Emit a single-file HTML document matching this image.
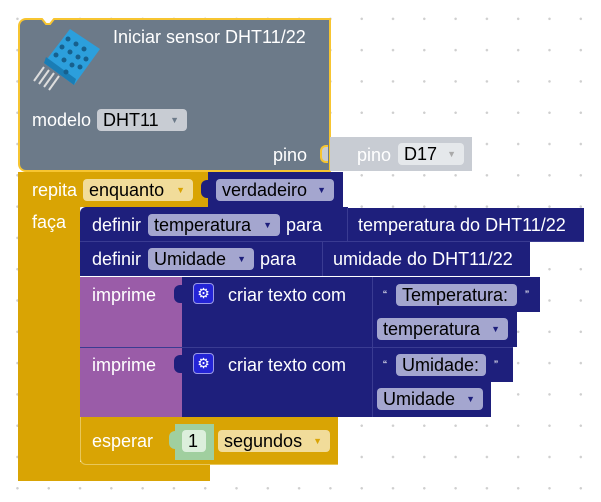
<!DOCTYPE html>
<html><head><meta charset="utf-8"><style>
html,body{margin:0;padding:0;}
body{width:601px;height:502px;position:relative;overflow:hidden;background:#fff;
background-image:radial-gradient(circle,#cfcfcf 1.1px,transparent 1.4px);
background-size:31.3px 31.3px;background-position:1.8px 3.2px;
font-family:"Liberation Sans",sans-serif;font-size:18px;}
.b{position:absolute;box-sizing:border-box;}
.t{position:absolute;color:#fff;white-space:nowrap;line-height:20px;font-size:18px;}
.f{position:absolute;box-sizing:border-box;border-radius:4px;color:#000;white-space:nowrap;line-height:22px;padding-left:6px;font-size:18px;}
.f i{font-style:normal;font-size:9px;position:absolute;right:8px;top:0px;}
.nv{background:#1e1f7c;}
.yl{background:#d9a404;}
.pu{background:#9a5ca8;}
.lav{background:#a4a6cf;}
.sep{position:absolute;background:#3a3b92;}
</style></head><body>

<!-- top grey block -->
<div class="b" style="left:18px;top:18px;width:313px;height:154px;background:#6c7a89;border:2px solid #f7c531;border-radius:8px 0 0 8px;"></div>
<svg class="b" style="left:36px;top:17px" width="24" height="10" viewBox="0 0 24 10"><path d="M0,1.5 L6,1.5 L10,6.5 L14,6.5 L18,1.5 L24,1.5 L24,0 L0,0 Z" fill="#fff"/><path d="M0,2 L6,2 L10,7 L14,7 L18,2 L24,2" fill="none" stroke="#f7c531" stroke-width="2"/></svg>
<!-- sensor icon -->
<svg class="b" style="left:30px;top:27px" width="72" height="66" viewBox="0 0 72 66">
<g stroke="#ddd" stroke-width="2"><line x1="14" y1="40" x2="4" y2="54"/><line x1="19" y1="43" x2="9" y2="57"/><line x1="24" y1="46" x2="14" y2="60"/><line x1="29" y1="49" x2="19" y2="63"/></g>
<polygon points="14,36 40,2 70,22 44,58" fill="#2c9fdc"/>
<polygon points="14,36 44,58 46,52 16,30" fill="#1a7db5"/>
<g fill="#17608d"><circle cx="38" cy="12" r="2.5"/><circle cx="46" cy="17" r="2.5"/><circle cx="54" cy="22" r="2.5"/><circle cx="32" cy="20" r="2.5"/><circle cx="40" cy="25" r="2.5"/><circle cx="48" cy="30" r="2.5"/><circle cx="26" cy="28" r="2.5"/><circle cx="34" cy="33" r="2.5"/><circle cx="42" cy="38" r="2.5"/><circle cx="36" cy="45" r="2.5"/><circle cx="56" cy="32" r="2.5"/><circle cx="50" cy="40" r="2.5"/></g>
</svg>
<div class="t" style="left:113px;top:27px;">Iniciar sensor DHT11/22</div>
<div class="t" style="left:32px;top:110px;">modelo</div>
<div class="f" style="left:97px;top:109px;width:90px;height:22px;background:#c8ccd3;">DHT11<i style="color:#6c7a89">▼</i></div>
<div class="t" style="left:273px;top:145px;">pino</div>
<div class="b" style="left:320px;top:145px;width:8px;height:18px;background:#c8ccd3;border:2px solid #f7c531;border-right:none;border-radius:6px 0 0 6px;"></div>
<!-- pino D17 -->
<div class="b" style="left:330px;top:137px;width:142px;height:34px;background:#c8ccd3;"></div>
<div class="t" style="left:357px;top:145px;">pino</div>
<div class="f" style="left:398px;top:143px;width:66px;height:22px;background:#e5e8eb;">D17<i style="color:#aaa">▼</i></div>

<!-- yellow repita C -->
<div class="b yl" style="left:18px;top:172px;width:192px;height:35px;"></div>
<div class="b yl" style="left:18px;top:172px;width:62px;height:309px;border-radius:0 0 0 8px;"></div>
<div class="b yl" style="left:18px;top:462px;width:192px;height:19px;"></div>
<div class="t" style="left:32px;top:180px;">repita</div>
<div class="f" style="left:83px;top:179px;width:110px;height:22px;background:#f1dc9a;">enquanto<i style="color:#d9a404">▼</i></div>
<div class="t" style="left:32px;top:212px;">faça</div>
<!-- verdadeiro -->
<div class="b nv" style="left:208px;top:172px;width:135px;height:35px;"></div>
<div class="b nv" style="left:201px;top:180px;width:10px;height:18px;border-radius:6px 0 0 6px;"></div>
<div class="f lav" style="left:216px;top:179px;width:118px;height:22px;">verdadeiro<i style="color:#1e1f7c">▼</i></div>

<!-- definir temperatura -->
<div class="b nv" style="left:80px;top:207px;width:268px;height:34px;border-radius:6px 0 0 0;"></div>
<div class="b nv" style="left:347px;top:208px;width:237px;height:33px;border-left:1px solid #3a3b92;"></div>
<div class="t" style="left:92px;top:215px;">definir</div>
<div class="f lav" style="left:148px;top:214px;width:132px;height:22px;">temperatura<i style="color:#1e1f7c">▼</i></div>
<div class="t" style="left:286px;top:215px;">para</div>
<div class="t" style="left:358px;top:215px;">temperatura do DHT11/22</div>
<div class="sep" style="left:80px;top:241px;width:504px;height:1px;"></div>
<!-- definir Umidade -->
<div class="b nv" style="left:80px;top:242px;width:243px;height:34px;"></div>
<div class="b nv" style="left:322px;top:242px;width:208px;height:34px;border-left:1px solid #3a3b92;"></div>
<div class="t" style="left:92px;top:249px;">definir</div>
<div class="f lav" style="left:148px;top:248px;width:106px;height:22px;">Umidade<i style="color:#1e1f7c">▼</i></div>
<div class="t" style="left:260px;top:249px;">para</div>
<div class="t" style="left:333px;top:249px;">umidade do DHT11/22</div>

<!-- imprime 1 -->
<div class="b pu" style="left:80px;top:277px;width:102px;height:70px;"></div>
<div class="b nv" style="left:182px;top:277px;width:190px;height:70px;"></div>
<div class="b nv" style="left:174px;top:285px;width:10px;height:18px;border-radius:6px 0 0 6px;"></div>
<div class="t" style="left:92px;top:285px;">imprime</div>
<div class="b" style="left:193px;top:283px;width:21px;height:21px;background:#2424d6;border:1px solid #9a9ae8;border-radius:4px;color:#fff;font-size:14px;line-height:19px;text-align:center;">⚙</div>
<div class="t" style="left:228px;top:285px;">criar texto com</div>
<div class="b nv" style="left:372px;top:277px;width:168px;height:35px;border-left:1px solid #3a3b92;"></div>
<div class="t" style="left:383px;top:285px;font-size:12px;">“</div>
<div class="f lav" style="left:396px;top:284px;width:121px;height:22px;">Temperatura:</div>
<div class="t" style="left:525px;top:285px;font-size:12px;">”</div>
<div class="b nv" style="left:372px;top:312px;width:145px;height:35px;border-left:1px solid #3a3b92;"></div>
<div class="f lav" style="left:377px;top:318px;width:131px;height:22px;">temperatura<i style="color:#1e1f7c">▼</i></div>
<div class="sep" style="left:80px;top:347px;width:433px;height:1px;"></div>

<!-- imprime 2 -->
<div class="b pu" style="left:80px;top:348px;width:102px;height:69px;"></div>
<div class="b nv" style="left:182px;top:348px;width:190px;height:69px;"></div>
<div class="b nv" style="left:174px;top:355px;width:10px;height:18px;border-radius:6px 0 0 6px;"></div>
<div class="t" style="left:92px;top:355px;">imprime</div>
<div class="b" style="left:193px;top:353px;width:21px;height:21px;background:#2424d6;border:1px solid #9a9ae8;border-radius:4px;color:#fff;font-size:14px;line-height:19px;text-align:center;">⚙</div>
<div class="t" style="left:228px;top:355px;">criar texto com</div>
<div class="b nv" style="left:372px;top:348px;width:141px;height:34px;border-left:1px solid #3a3b92;"></div>
<div class="t" style="left:383px;top:355px;font-size:12px;">“</div>
<div class="f lav" style="left:396px;top:354px;width:90px;height:22px;">Umidade:</div>
<div class="t" style="left:494px;top:355px;font-size:12px;">”</div>
<div class="b nv" style="left:372px;top:382px;width:119px;height:35px;border-left:1px solid #3a3b92;"></div>
<div class="f lav" style="left:377px;top:388px;width:106px;height:22px;">Umidade<i style="color:#1e1f7c">▼</i></div>

<!-- esperar -->
<div class="b yl" style="left:80px;top:417px;width:258px;height:48px;border-radius:0 0 0 6px;border-left:1px solid #e8c75a;border-bottom:1px solid #e8c75a;"></div>
<div class="t" style="left:92px;top:431px;">esperar</div>
<div class="b" style="left:175px;top:424px;width:39px;height:36px;background:#a0cf9f;"></div>
<div class="b" style="left:169px;top:431px;width:8px;height:18px;background:#a0cf9f;border-radius:6px 0 0 6px;"></div>
<div class="f" style="left:182px;top:430px;width:24px;height:22px;background:#dcefdc;">1</div>
<div class="f" style="left:218px;top:430px;width:112px;height:22px;background:#f1dc9a;">segundos<i style="color:#d9a404">▼</i></div>
</body></html>
